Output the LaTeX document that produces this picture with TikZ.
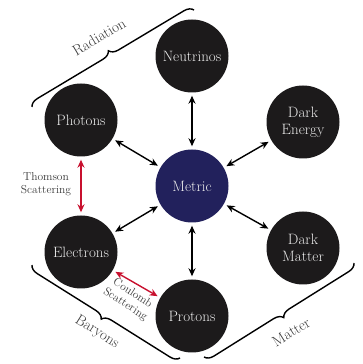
\documentclass[tikz,border=0pt]{standalone}
\usetikzlibrary{arrows.meta,decorations.pathreplacing}
\definecolor{ballc}{HTML}{1C1A1B}
\definecolor{metc}{HTML}{22215C}
\definecolor{redc}{HTML}{C8102E}
\definecolor{labc}{HTML}{3A3A3A}
\begin{document}
\begin{tikzpicture}[x=1pt,y=1pt,
 ball/.style={circle,fill=ballc,minimum size=73pt,inner sep=0pt,text=white!92!black,font=\fontsize{15}{17}\selectfont,align=center},
 link/.style={{Stealth[length=8pt,width=7pt]}-{Stealth[length=8pt,width=7pt]},line width=1.4pt,shorten >=3pt,shorten <=3pt},
 redlink/.style={link,draw=redc},
 lab/.style={text=labc,font=\fontsize{11.5}{13}\selectfont,align=center},
 blab/.style={text=labc,font=\fontsize{15}{17}\selectfont},
 brc/.style={decorate,decoration={brace,amplitude=9pt},line width=1.4pt}]
\useasboundingbox (0,0) rectangle (362,364);
\node[ball,fill=metc] (met) at (192,178) {Metric};
\node[ball] (neu) at (192,308) {Neutrinos};
\node[ball] (pho) at (81,244) {Photons};
\node[ball] (de) at (303,242) {Dark\\Energy};
\node[ball] (ele) at (81,112) {Electrons};
\node[ball] (dm) at (303,116) {Dark\\Matter};
\node[ball] (pro) at (192,48) {Protons};
\draw[link] (met) -- (neu);
\draw[link] (met) -- (pho);
\draw[link] (met) -- (de);
\draw[link] (met) -- (ele);
\draw[link] (met) -- (dm);
\draw[link] (met) -- (pro);
\draw[redlink] (pho) -- (ele);
\draw[redlink] (ele) -- (pro);
\node[lab] (thom) at (46,180) {Thomson\\Scattering};
\node[lab,rotate=-33] (coul) at (129,65) {Coulomb\\Scattering};
\coordinate (r1) at (32,257);
\coordinate (r2) at (194,354);
\coordinate (b1) at (180,6);
\coordinate (b2) at (32,99);
\coordinate (m1) at (354,101);
\coordinate (m2) at (204,7);
\draw[brc] (r1) -- (r2);
\draw[brc] (b1) -- (b2);
\draw[brc] (m1) -- (m2);
\node[blab,rotate=31] (rad) at (99,327) {Radiation};
\node[blab,rotate=-32] (bar) at (97,32) {Baryons};
\node[blab,rotate=32] (mat) at (291,32) {Matter};
\end{tikzpicture}
\end{document}
